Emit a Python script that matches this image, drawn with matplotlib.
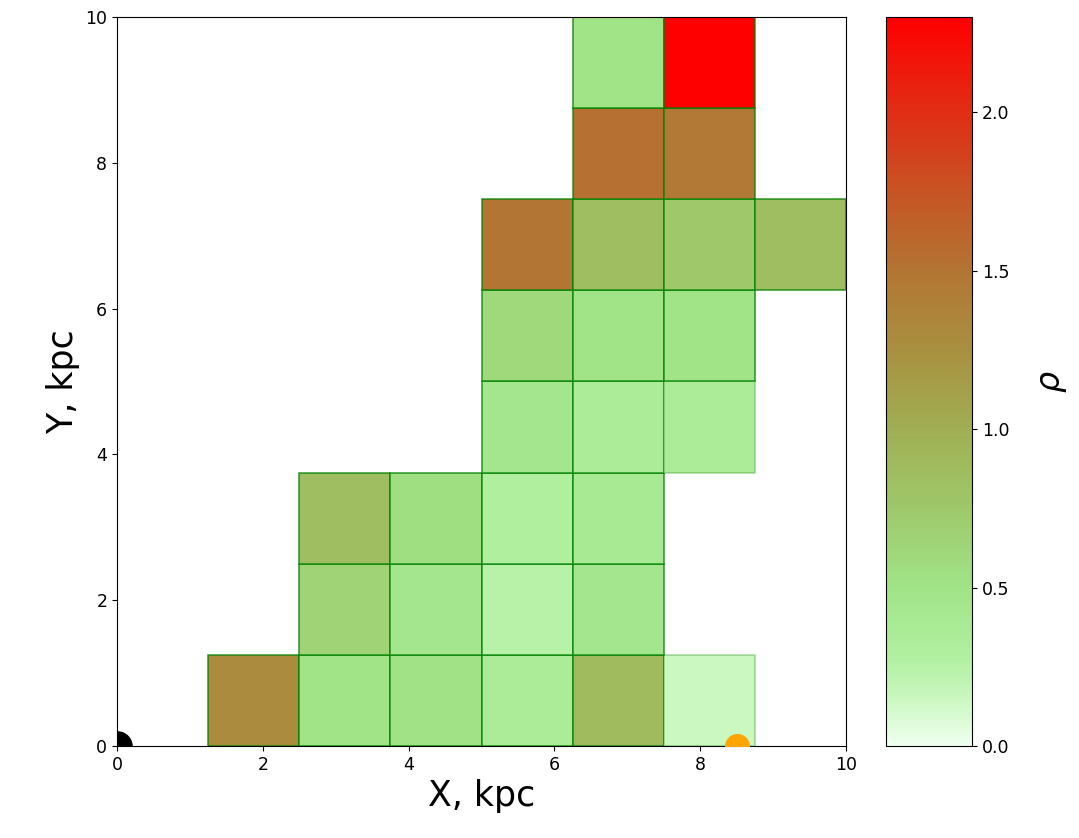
import numpy as np
import matplotlib
matplotlib.use("Agg")
import matplotlib.pyplot as plt
from matplotlib.colors import LinearSegmentedColormap, Normalize
from matplotlib.cm import ScalarMappable

# grid of 1.25 kpc cells, (column, row) index and density value
cell_size = 1.25
cols = [1, 2, 3, 4, 5, 6,
        2, 3, 4, 5,
        2, 3, 4, 5,
        4, 5, 6,
        4, 5, 6,
        4, 5, 6, 7,
        5, 6,
        5, 6]
rows = [0, 0, 0, 0, 0, 0,
        1, 1, 1, 1,
        2, 2, 2, 2,
        3, 3, 3,
        4, 4, 4,
        5, 5, 5, 5,
        6, 6,
        7, 7]
rho = [1.30, 0.50, 0.52, 0.35, 0.88, 0.15,
       0.65, 0.45, 0.25, 0.45,
       0.85, 0.55, 0.30, 0.40,
       0.45, 0.35, 0.35,
       0.60, 0.50, 0.50,
       1.50, 0.85, 0.75, 0.85,
       1.53, 1.46,
       0.50, 2.30]
# cells drawn with a fainter outline
faint = [(6, 0), (6, 3)]

sun_x, sun_y = 8.5, 0.0
gc_x, gc_y = 0.0, 0.0

# colour stops
stops = [(0.00, (0.94, 1.00, 0.94)),
         (0.06, (0.80, 0.97, 0.76)),
         (0.12, (0.69, 0.94, 0.63)),
         (0.22, (0.63, 0.89, 0.53)),
         (0.33, (0.62, 0.78, 0.41)),
         (0.43, (0.63, 0.69, 0.33)),
         (0.54, (0.66, 0.57, 0.25)),
         (0.65, (0.70, 0.46, 0.20)),
         (0.76, (0.78, 0.33, 0.14)),
         (0.87, (0.88, 0.18, 0.08)),
         (1.00, (1.00, 0.00, 0.00))]
cmap = LinearSegmentedColormap.from_list("rho", stops)
norm = Normalize(vmin=0, vmax=2.30)

fig = plt.figure(figsize=(10.79, 8.38), dpi=100)
ax = fig.add_axes([117/1079, 92/838, 729/1079, 729/838])
cax = fig.add_axes([886/1079, 92/838, 86/1079, 729/838])

x = np.array(cols) * cell_size
y = np.array(rows) * cell_size
colors = cmap(norm(np.array(rho)))
edges = [(0, 0.5, 0, 0.3) if (c, r) in faint else (0, 0.5, 0, 0.75)
         for c, r in zip(cols, rows)]
ax.bar(x, cell_size, width=cell_size, bottom=y, align='edge',
       color=colors, edgecolor=edges, linewidth=1.2, zorder=1)

ax.plot(gc_x, gc_y, 'o', color='black', markersize=21, zorder=3)
ax.plot(sun_x, sun_y, 'o', color='orange', markersize=17, zorder=3)

ax.set_xlim(0, 10)
ax.set_ylim(0, 10)
ax.set_xlabel("X, kpc", fontsize=25)
ax.set_ylabel("Y, kpc", fontsize=25)
ax.tick_params(labelsize=12.5)

sm = ScalarMappable(norm=norm, cmap=cmap)
cb = fig.colorbar(sm, cax=cax)
cb.set_ticks([0.0, 0.5, 1.0, 1.5, 2.0])
cb.ax.tick_params(labelsize=12.5)
cb.set_label(r"$\rho$", fontsize=24, labelpad=19)

fig.savefig("out.png", dpi=100)
